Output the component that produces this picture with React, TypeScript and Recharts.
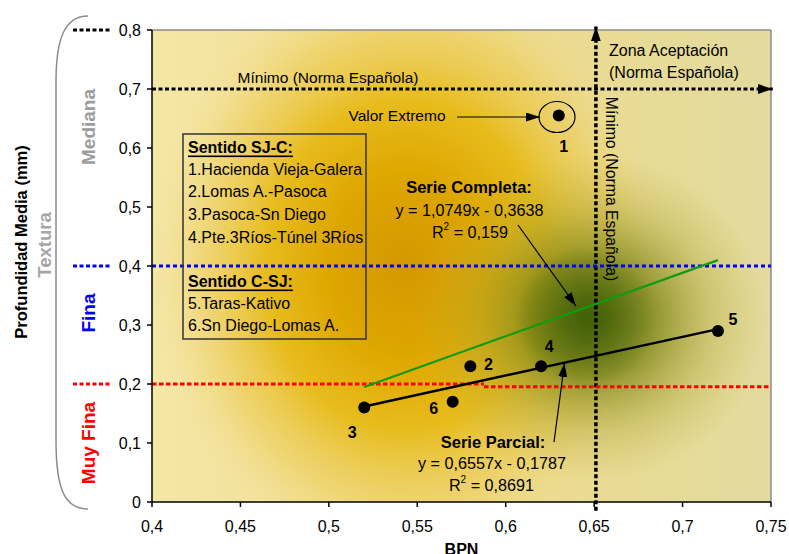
import React from "react";
import {
  ScatterChart,
  Scatter,
  XAxis,
  YAxis,
  ReferenceArea,
  ReferenceLine,
} from "recharts";

// tramos (ids), BPN and profundidad media de textura (mm)
const tramoIds = [1, 2, 3, 4, 5, 6];
const bpnValues = [0.63, 0.58, 0.52, 0.62, 0.72, 0.57];
const profundidadValues = [0.655, 0.23, 0.16, 0.23, 0.29, 0.17];

// trend lines as drawn (endpoints)
const parcialX = [0.52, 0.72];
const parcialY = [0.162, 0.293];
const completaX = [0.52, 0.72];
const completaY = [0.195, 0.41];

// reference levels
const minimoProfundidad = 0.7;
const minimoBpn = 0.651;
const limiteFina = 0.4;
const limiteMuyFina = 0.2;

const xTicks = [0.4, 0.45, 0.5, 0.55, 0.6, 0.65, 0.7, 0.75];
const yTicks = [0, 0.1, 0.2, 0.3, 0.4, 0.5, 0.6, 0.7, 0.8];

const leyendaSJC = [
  "1.Hacienda Vieja-Galera",
  "2.Lomas A.-Pasoca",
  "3.Pasoca-Sn Diego",
  "4.Pte.3Ríos-Túnel 3Ríos",
];
const leyendaCSJ = ["5.Taras-Kativo", "6.Sn Diego-Lomas A."];

const puntos = tramoIds.map((id, i) => ({ id, x: bpnValues[i], y: profundidadValues[i] }));
const parcial = parcialX.map((x, i) => ({ x, y: parcialY[i] }));
const completa = completaX.map((x, i) => ({ x, y: completaY[i] }));

// where each point number sits relative to its dot
const labelOffset: Record<number, [number, number]> = {
  1: [5, 31],
  2: [18, -2],
  3: [-12, 25],
  4: [8, -20],
  5: [15, -11],
  6: [-19, 7],
};

const FONT = "'Liberation Sans', Arial, sans-serif";
const fmt = (v: number) => String(v).replace(".", ",");

const Punto = (props: any) => {
  const { cx, cy, payload } = props;
  const [dx, dy] = labelOffset[payload.id];
  return (
    <g>
      <circle cx={cx} cy={cy} r={6} fill="#000" />
      <text
        x={cx + dx}
        y={cy + dy}
        textAnchor="middle"
        dominantBaseline="central"
        fontSize={16}
        fontWeight="bold"
        fontFamily={FONT}
      >
        {payload.id}
      </text>
    </g>
  );
};

const NoDot = () => <g />;

const Overlay = () => (
  <svg
    width={789}
    height={554}
    style={{ position: "absolute", left: 0, top: 0, pointerEvents: "none" }}
    fontFamily={FONT}
  >
    <defs>
      <marker id="arrowSmall" viewBox="0 0 14 9" refX="14" refY="4.5" markerWidth="14" markerHeight="9" markerUnits="userSpaceOnUse" orient="auto">
        <path d="M0,0 L14,4.5 L0,9 z" fill="#000" />
      </marker>
    </defs>
    {/* bracket and side labels */}
    <path d="M88 16 C64 16 56 40 56 82 L56 440 C56 488 64 509 88 509" fill="none" stroke="#8c8c8c" strokeWidth={1.5} />
    <line x1={73} y1={30} x2={111} y2={30} stroke="#000" strokeWidth={3} strokeDasharray="4 2.5" />
    <line x1={73} y1={266} x2={111} y2={266} stroke="#0000ff" strokeWidth={3} strokeDasharray="4 2.5" />
    <line x1={73} y1={384} x2={111} y2={384} stroke="#ff0000" strokeWidth={3} strokeDasharray="4 2.5" />
    <text transform="translate(21,242) rotate(-90)" textAnchor="middle" dominantBaseline="central" fontSize={16.5} fontWeight="bold">
      Profundidad Media (mm)
    </text>
    <text transform="translate(44,245) rotate(-90)" textAnchor="middle" dominantBaseline="central" fontSize={18.5} fontWeight="bold" fill="#a6a6a6">
      Textura
    </text>
    <text transform="translate(88,127) rotate(-90)" textAnchor="middle" dominantBaseline="central" fontSize={19} fontWeight="bold" fill="#9c9c9c">
      Mediana
    </text>
    <text transform="translate(88,313) rotate(-90)" textAnchor="middle" dominantBaseline="central" fontSize={19} fontWeight="bold" fill="#0000ff">
      Fina
    </text>
    <text transform="translate(88,443) rotate(-90)" textAnchor="middle" dominantBaseline="central" fontSize={19} fontWeight="bold" fill="#ff0000">
      Muy Fina
    </text>

    {/* annotations */}
    <text x={328} y={77} textAnchor="middle" dominantBaseline="central" fontSize={15.5}>
      Mínimo (Norma Española)
    </text>
    <text x={609} y={50} dominantBaseline="central" fontSize={16}>
      Zona Aceptación
    </text>
    <text x={609} y={72} dominantBaseline="central" fontSize={16}>
      (Norma Española)
    </text>
    <text transform="translate(611,189) rotate(90)" textAnchor="middle" dominantBaseline="central" fontSize={15.8}>
      Mínimo (Norma Española)
    </text>
    <text x={397} y={115} textAnchor="middle" dominantBaseline="central" fontSize={15.5}>
      Valor Extremo
    </text>
    <line x1={457} y1={117} x2={540} y2={117} stroke="#000" strokeWidth={1.2} markerEnd="url(#arrowSmall)" />
    <ellipse cx={557} cy={117} rx={18} ry={15.5} fill="none" stroke="#000" strokeWidth={1.2} />

    <text x={469} y={187} textAnchor="middle" dominantBaseline="central" fontSize={16.5} fontWeight="bold">
      Serie Completa:
    </text>
    <text x={469.5} y={210} textAnchor="middle" dominantBaseline="central" fontSize={16.2}>
      y = 1,0749x - 0,3638
    </text>
    <text x={470} y={232} textAnchor="middle" dominantBaseline="central" fontSize={16.2}>
      R<tspan dy={-6} fontSize={10}>2</tspan>
      <tspan dy={6}> = 0,159</tspan>
    </text>
    <line x1={518} y1={225} x2={576} y2={306} stroke="#000" strokeWidth={1.2} markerEnd="url(#arrowSmall)" />

    <text x={493} y={442} textAnchor="middle" dominantBaseline="central" fontSize={16.5} fontWeight="bold">
      Serie Parcial:
    </text>
    <text x={492} y={463} textAnchor="middle" dominantBaseline="central" fontSize={16.2}>
      y = 0,6557x - 0,1787
    </text>
    <text x={491.5} y={485} textAnchor="middle" dominantBaseline="central" fontSize={16.2}>
      R<tspan dy={-6} fontSize={10}>2</tspan>
      <tspan dy={6}> = 0,8691</tspan>
    </text>
    <line x1={554} y1={442} x2={564.5} y2={363} stroke="#000" strokeWidth={1.2} markerEnd="url(#arrowSmall)" />

    {/* legend box */}
    <rect x={183} y={134} width={183} height={205} fill="none" stroke="#333" strokeWidth={1.5} />
    <text x={188} y={147} dominantBaseline="central" fontSize={16} fontWeight="bold" textDecoration="underline">
      Sentido SJ-C:
    </text>
    {leyendaSJC.map((t, i) => (
      <text key={t} x={188} y={169 + i * 22.7} dominantBaseline="central" fontSize={16}>
        {t}
      </text>
    ))}
    <text x={188} y={281} dominantBaseline="central" fontSize={16} fontWeight="bold" textDecoration="underline">
      Sentido C-SJ:
    </text>
    {leyendaCSJ.map((t, i) => (
      <text key={t} x={188} y={303 + i * 22.5} dominantBaseline="central" fontSize={16}>
        {t}
      </text>
    ))}
  </svg>
);

export default function App() {
  return (
    <div style={{ position: "absolute", left: 0, top: 0, width: 789, height: 554, background: "#fff" }}>
      <ScatterChart width={789} height={554} margin={{ top: 30, right: 18, bottom: 0, left: 0 }}>
        <defs>
          <linearGradient id="bgBase" gradientUnits="userSpaceOnUse" x1={152} y1={0} x2={771} y2={0}>
            <stop offset="0" stopColor="#f4e6a6" />
            <stop offset="0.5" stopColor="#f0dc8c" />
            <stop offset="1" stopColor="#e2da9e" />
          </linearGradient>
          <radialGradient id="bgGold" gradientUnits="userSpaceOnUse" cx={0} cy={0} r={1} gradientTransform="translate(405 265) scale(255 300)">
            <stop offset="0" stopColor="#d49800" stopOpacity={1} />
            <stop offset="0.3" stopColor="#dea600" stopOpacity={1} />
            <stop offset="0.55" stopColor="#e6b810" stopOpacity={0.9} />
            <stop offset="0.8" stopColor="#ecca50" stopOpacity={0.5} />
            <stop offset="1" stopColor="#f0dc90" stopOpacity={0} />
          </radialGradient>
          <radialGradient id="bgOlive" gradientUnits="userSpaceOnUse" cx={0} cy={0} r={1} gradientTransform="translate(592 318) scale(175 165)">
            <stop offset="0" stopColor="#4c680a" stopOpacity={1} />
            <stop offset="0.35" stopColor="#788216" stopOpacity={0.8} />
            <stop offset="0.7" stopColor="#aaa230" stopOpacity={0.35} />
            <stop offset="1" stopColor="#c0b440" stopOpacity={0} />
          </radialGradient>
          <radialGradient id="bgDark" gradientUnits="userSpaceOnUse" cx={585} cy={318} r={70}>
            <stop offset="0" stopColor="#3c5c06" stopOpacity={0.7} />
            <stop offset="1" stopColor="#3c5c06" stopOpacity={0} />
          </radialGradient>
          <marker id="arrowBig" viewBox="0 0 15 10" refX="15" refY="5" markerWidth="15" markerHeight="10" markerUnits="userSpaceOnUse" orient="auto">
            <path d="M0,0 L15,5 L0,10 z" fill="#000" />
          </marker>
        </defs>

        <ReferenceArea x1={0.4} x2={0.75} y1={0} y2={0.8} fill="url(#bgBase)" fillOpacity={1} stroke="none" />
        <ReferenceArea x1={0.4} x2={0.75} y1={0} y2={0.8} fill="url(#bgGold)" fillOpacity={1} stroke="none" />
        <ReferenceArea x1={0.4} x2={0.75} y1={0} y2={0.8} fill="url(#bgOlive)" fillOpacity={1} stroke="none" />
        <ReferenceArea x1={0.4} x2={0.75} y1={0} y2={0.8} fill="url(#bgDark)" fillOpacity={1} stroke="none" />

        <ReferenceLine y={0.8} stroke="#8c8c8c" strokeWidth={1.5} />
        <ReferenceLine x={0.75} stroke="#8c8c8c" strokeWidth={1.5} />

        <XAxis
          type="number"
          dataKey="x"
          domain={[0.4, 0.75]}
          ticks={xTicks}
          tickFormatter={fmt}
          allowDataOverflow
          height={52}
          stroke="#000"
          strokeWidth={1.5}
          tickSize={5}
          tickMargin={14}
          tick={{ fontSize: 16, fill: "#000", fontFamily: FONT }}
          label={{ value: "BPN", position: "insideBottom", offset: -1, fontSize: 16, fontWeight: "bold", fill: "#000", fontFamily: FONT }}
        />
        <YAxis
          type="number"
          dataKey="y"
          domain={[0, 0.8]}
          ticks={yTicks}
          tickFormatter={fmt}
          allowDataOverflow
          width={152}
          stroke="#000"
          strokeWidth={1.5}
          tickSize={5}
          tickMargin={6}
          tick={{ fontSize: 16, fill: "#000", fontFamily: FONT }}
        />

        <ReferenceLine
          segment={[{ x: 0.4, y: minimoProfundidad }, { x: 0.751, y: minimoProfundidad }]}
          ifOverflow="visible"
          stroke="#000"
          strokeWidth={3}
          strokeDasharray="4 2.5"
          markerEnd="url(#arrowBig)"
        />
        <ReferenceLine
          segment={[{ x: minimoBpn, y: -0.015 }, { x: minimoBpn, y: 0.806 }]}
          ifOverflow="visible"
          stroke="#000"
          strokeWidth={3.5}
          strokeDasharray="4 2.5"
          markerEnd="url(#arrowBig)"
        />
        <ReferenceLine y={limiteFina} stroke="#0000ff" strokeWidth={3} strokeDasharray="4 3" />
        <ReferenceLine
          segment={[{ x: 0.4, y: limiteMuyFina }, { x: 0.5877, y: limiteMuyFina }]}
          stroke="#ff0000"
          strokeWidth={3}
          strokeDasharray="4.5 2.5"
        />
        <ReferenceLine
          segment={[{ x: 0.5877, y: 0.1955 }, { x: 0.75, y: 0.1955 }]}
          stroke="#ff0000"
          strokeWidth={3}
          strokeDasharray="4.5 2.5"
        />

        <Scatter data={completa} line={{ stroke: "#129a12", strokeWidth: 2.2 }} shape={NoDot} isAnimationActive={false} />
        <Scatter data={parcial} line={{ stroke: "#000", strokeWidth: 2.5 }} shape={NoDot} isAnimationActive={false} />
        <Scatter data={puntos} shape={Punto} isAnimationActive={false} />
      </ScatterChart>
      <Overlay />
    </div>
  );
}
